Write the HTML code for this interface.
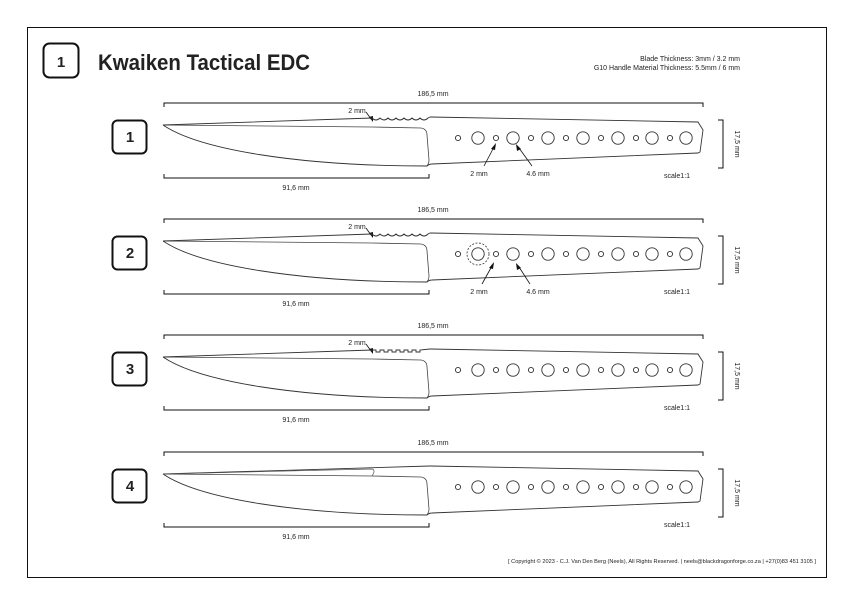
<!DOCTYPE html>
<html><head><meta charset="utf-8"><style>
html,body{margin:0;padding:0;background:#fff}
svg{display:block}
text{font-family:"Liberation Sans",sans-serif;fill:#222}
</style></head><body>
<svg width="854" height="604" viewBox="0 0 854 604" xmlns="http://www.w3.org/2000/svg">
<rect x="27.5" y="27.5" width="799" height="550" fill="#fff" stroke="#111" stroke-width="1"/>
<rect x="43.5" y="43.5" width="35" height="34" rx="6" fill="none" stroke="#111" stroke-width="2"/>
<text x="61" y="67" font-size="15" font-weight="bold" text-anchor="middle" fill="#111">1</text>
<text x="98" y="70" font-size="22" font-weight="bold" fill="#111" textLength="212" lengthAdjust="spacingAndGlyphs">Kwaiken Tactical EDC</text>
<text x="740" y="61" font-size="7" text-anchor="end">Blade Thickness: 3mm / 3.2 mm</text>
<text x="740" y="70" font-size="7" text-anchor="end">G10 Handle Material Thickness: 5.5mm / 6 mm</text>

<defs>
<g id="holes" fill="none" stroke="#333" stroke-width="0.9">
<circle cx="458" cy="0" r="2.6"/><circle cx="478" cy="0" r="6.2"/>
<circle cx="496" cy="0" r="2.6"/><circle cx="513" cy="0" r="6.2"/>
<circle cx="531" cy="0" r="2.6"/><circle cx="548" cy="0" r="6.2"/>
<circle cx="566" cy="0" r="2.6"/><circle cx="583" cy="0" r="6.2"/>
<circle cx="601" cy="0" r="2.6"/><circle cx="618" cy="0" r="6.2"/>
<circle cx="636" cy="0" r="2.6"/><circle cx="652" cy="0" r="6.2"/>
<circle cx="670" cy="0" r="2.6"/><circle cx="686" cy="0" r="6.2"/>
</g>
<g id="common">
<path d="M164,107 V103 H703 V107" fill="none" stroke="#111" stroke-width="1"/>
<text x="433" y="96" font-size="7" text-anchor="middle">186,5 mm</text>
<path d="M164,174 V178 H429 V174" fill="none" stroke="#111" stroke-width="1"/>
<text x="296" y="190" font-size="7" text-anchor="middle">91,6 mm</text>
<path d="M718,120 H723 V168 H718" fill="none" stroke="#111" stroke-width="1"/>
<text x="735" y="144" font-size="7" text-anchor="middle" transform="rotate(90 735 144)">17,5 mm</text>
<text x="677" y="178" font-size="7" text-anchor="middle">scale1:1</text>
<rect x="112.5" y="120.5" width="34" height="33" rx="5" fill="none" stroke="#111" stroke-width="2"/>
<path d="M163,125 L372,127 L421,128 Q427,129 427,135 L429,160 Q429,163 427,166" fill="none" stroke="#444" stroke-width="0.8"/>
<path d="M163,125 C200,150 300,166 427,166 Q429,164 432,164 L698,153 L700,152 L703,130 L698,122 L430,117" fill="none" stroke="#333" stroke-width="0.9"/>
<use href="#holes" y="138"/>
</g>
<g id="arrow2mm">
<text x="357" y="113" font-size="7" text-anchor="middle">2 mm</text>
<path d="M366,112 L371,119" stroke="#111" stroke-width="0.8"/>
<path d="M373,122 L369,117 L373,116 Z" fill="#111"/>
</g>
</defs>

<g>
<use href="#common"/>
<use href="#arrow2mm"/>
<text x="130" y="142" font-size="15" font-weight="bold" text-anchor="middle" fill="#111">1</text>
<path d="M163,125 L372,118 q4,4 8,0 q4,4 8,0 q4,4 8,0 q4,4 8,0 q4,4 8,0 q4,4 8,0 q4,4 8,0 L430,117" fill="none" stroke="#333" stroke-width="0.9"/>
<text x="479" y="176" font-size="7" text-anchor="middle">2 mm</text>
<path d="M484,166 L494,147" stroke="#111" stroke-width="0.8"/>
<path d="M496,143 L491,149 L495,150 Z" fill="#111"/>
<text x="538" y="176" font-size="7" text-anchor="middle">4.6 mm</text>
<path d="M532,166 L519,148" stroke="#111" stroke-width="0.8"/>
<path d="M516,144 L517,151 L521,149 Z" fill="#111"/>
</g>

<g transform="translate(0,116)">
<use href="#common"/>
<use href="#arrow2mm"/>
<text x="130" y="142" font-size="15" font-weight="bold" text-anchor="middle" fill="#111">2</text>
<path d="M163,125 L372,118 q4,4 8,0 q4,4 8,0 q4,4 8,0 q4,4 8,0 q4,4 8,0 q4,4 8,0 q4,4 8,0 L430,117" fill="none" stroke="#333" stroke-width="0.9"/>
<circle cx="478" cy="138" r="11" fill="none" stroke="#333" stroke-width="0.8" stroke-dasharray="2,1.5"/>
<text x="479" y="178" font-size="7" text-anchor="middle">2 mm</text>
<path d="M482,168 L492,150" stroke="#111" stroke-width="0.8"/>
<path d="M494,146 L489,152 L493,153 Z" fill="#111"/>
<text x="538" y="178" font-size="7" text-anchor="middle">4.6 mm</text>
<path d="M530,168 L519,151" stroke="#111" stroke-width="0.8"/>
<path d="M516,147 L517,154 L521,152 Z" fill="#111"/>
</g>

<g transform="translate(0,232)">
<use href="#common"/>
<use href="#arrow2mm"/>
<text x="130" y="142" font-size="15" font-weight="bold" text-anchor="middle" fill="#111">3</text>
<path d="M163,125 L372,118 h4 v2 h4 v-2 h4 v2 h4 v-2 h4 v2 h4 v-2 h4 v2 h4 v-2 h4 v2 h4 v-2 h4 v2 h4 v-2 L430,117" fill="none" stroke="#333" stroke-width="0.9"/>
</g>

<g transform="translate(0,349)">
<use href="#common"/>
<text x="130" y="142" font-size="15" font-weight="bold" text-anchor="middle" fill="#111">4</text>
<path d="M163,125 L430,117" fill="none" stroke="#333" stroke-width="0.9"/>
<path d="M163,125 L372,120 Q376,121 372,127" fill="none" stroke="#555" stroke-width="0.7"/>
</g>

<text x="662" y="563" font-size="5.6" text-anchor="middle">[ Copyright © 2023 - C.J. Van Den Berg (Neels), All Rights Reserved.  |  neels@blackdragonforge.co.za  | +27(0)83 451 3105  ]</text>
</svg>
</body></html>
